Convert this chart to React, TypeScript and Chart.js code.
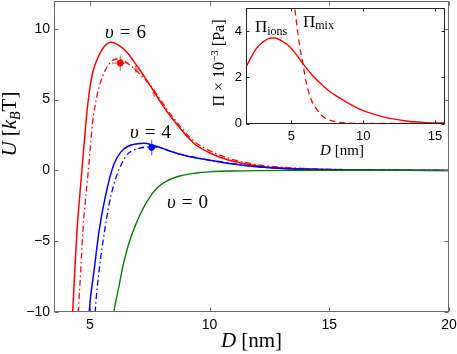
import React, { useEffect, useRef } from "react";
import { Chart, registerables } from "chart.js";
Chart.register(...registerables);

// ---------------- data ----------------
const mainXTicks = [5, 10, 15, 20];
const mainYTicks = [-10, -5, 0, 5, 10];
const insetXTicks = [5, 10, 15];
const insetYTicks = [0, 2, 4];

// upsilon = 6, full theory (solid)
const v6SolidD = [4.24, 4.28, 4.37, 4.46, 4.55, 4.63, 4.76, 4.9, 5.1, 5.4, 5.6, 5.88, 6.2, 6.57, 7.0, 7.55, 8.0, 8.4, 9.35, 10.0, 10.75, 12.1, 13.8, 16.0, 18.0, 20.0];
const v6SolidU = [-11, -10, -7.0, -4.3, -2.3, -0.7, 1.9, 4.5, 6.8, 8.2, 8.75, 9.05, 8.85, 8.3, 7.3, 5.9, 4.7, 3.75, 1.9, 1.25, 0.75, 0.3, 0.12, 0.04, 0.01, 0];
// upsilon = 6, dash-dot
const v6FitD = [4.47, 4.51, 4.62, 4.71, 4.8, 4.9, 5.0, 5.1, 5.3, 5.46, 5.65, 5.85, 6.09, 6.4, 6.7, 7.0, 7.55, 8.0, 8.4, 9.35, 10.0, 10.75, 12.1, 13.8, 16.0, 18.0, 20.0];
const v6FitU = [-11, -10, -7.0, -4.2, -2.3, -0.6, 1.2, 3.2, 5.3, 6.3, 7.1, 7.6, 7.87, 7.75, 7.4, 6.95, 5.95, 4.85, 3.9, 2.05, 1.4, 0.88, 0.38, 0.15, 0.05, 0.01, 0];
// upsilon = 4, solid
const v4SolidD = [4.94, 4.97, 5.18, 5.39, 5.67, 6.01, 6.29, 6.57, 6.99, 7.27, 7.62, 8.0, 8.24, 9.08, 10.0, 10.47, 11.0, 12.1, 13.0, 14.0, 16.0, 18.0, 20.0];
const v4SolidU = [-11, -10, -7.0, -4.2, -1.64, 0.47, 1.29, 1.69, 1.88, 1.92, 1.78, 1.58, 1.42, 1.0, 0.72, 0.58, 0.45, 0.24, 0.14, 0.08, 0.02, 0.005, 0];
// upsilon = 4, dash-dot
const v4FitD = [5.19, 5.22, 5.39, 5.62, 5.8, 6.0, 6.25, 6.57, 7.0, 7.5, 8.0, 8.5, 9.1, 10.5, 12.0, 14.0, 16.0, 20.0];
const v4FitU = [-11, -10, -7.0, -4.2, -2.4, -1.0, 0.2, 1.15, 1.53, 1.66, 1.57, 1.27, 1.02, 0.6, 0.25, 0.08, 0.02, 0];
// upsilon = 0
const v0D = [5.93, 6.01, 6.2, 6.4, 6.6, 6.85, 7.1, 7.4, 7.8, 8.2, 8.8, 9.4, 10.0, 11.0, 12.0, 14.0, 20.0];
const v0U = [-11, -9.9, -8.3, -6.6, -5.3, -4.1, -3.1, -2.15, -1.25, -0.75, -0.38, -0.2, -0.1, -0.04, -0.015, 0, 0];

// simulation points with error bars
const red6PointD = [6.27];
const red6PointU = [7.58];
const red6PointDErr = [0.35];
const red6PointUErr = [0.55];
const red6SmallD = [6.92, 7.68];
const red6SmallU = [7.16, 5.45];
const red6SmallDErr = [0.08, 0.08];
const red6SmallUErr = [0.25, 0.25];
const blue4PointD = [7.58];
const blue4PointU = [1.62];
const blue4PointDErr = [0.1];
const blue4PointUErr = [0.55];

// inset: osmotic pressures (x 10^-3 Pa)
const piIonsD = [1.83, 2.56, 3.0, 3.48, 3.8, 4.41, 4.88, 5.34, 5.81, 6.4, 6.97, 7.6, 8.37, 9.2, 10.0, 10.9, 11.86, 13.0, 14.2, 15.7];
const piIons = [2.45, 3.25, 3.52, 3.69, 3.7, 3.54, 3.32, 2.98, 2.58, 2.12, 1.76, 1.42, 1.1, 0.8, 0.56, 0.37, 0.22, 0.11, 0.05, 0.02];
const piMixD = [5.1, 5.23, 5.39, 5.58, 5.81, 6.04, 6.39, 6.78, 7.2, 7.6, 8.13, 9.0, 10.0, 15.7];
const piMix = [5.8, 4.99, 4.19, 3.32, 2.53, 1.74, 1.02, 0.6, 0.3, 0.16, 0.07, 0.02, 0.0, 0.0];

// ---------------- helpers ----------------
const W = 457;
const H = 354;
const SERIF = '"Liberation Serif", "DejaVu Serif", serif';
const SANS = '"Liberation Sans", Arial, sans-serif';
const it = (s: number) => `italic ${s}px ${SERIF}`;
const rm = (s: number) => `${s}px ${SERIF}`;

const pts = (xs: number[], ys: number[]) => xs.map((x, i) => ({ x, y: ys[i] }));
const fmt = (v: number) => (v < 0 ? "\u2212" + Math.abs(v) : String(v));

type Run = { t?: string; f?: string; dy?: number; gap?: number };

function runsWidth(ctx: CanvasRenderingContext2D, runs: Run[]) {
  let w = 0;
  for (const r of runs) {
    if (r.gap) w += r.gap;
    else {
      ctx.font = r.f!;
      w += ctx.measureText(r.t!).width;
    }
  }
  return w;
}

function drawRuns(ctx: CanvasRenderingContext2D, runs: Run[], x: number, y: number, center: boolean) {
  let cx = center ? x - runsWidth(ctx, runs) / 2 : x;
  ctx.textAlign = "left";
  ctx.textBaseline = "alphabetic";
  for (const r of runs) {
    if (r.gap) {
      cx += r.gap;
      continue;
    }
    ctx.font = r.f!;
    ctx.fillText(r.t!, cx, y + (r.dy || 0));
    cx += ctx.measureText(r.t!).width;
  }
}

function drawRotated(ctx: CanvasRenderingContext2D, runs: Run[], bx: number, cy: number) {
  ctx.save();
  ctx.translate(bx, cy);
  ctx.rotate(-Math.PI / 2);
  drawRuns(ctx, runs, 0, 0, true);
  ctx.restore();
}

function drawFrame(chart: any, color: string, tick: number, xt: number[], yt: number[]) {
  const { ctx, chartArea: a, scales } = chart;
  const L = Math.round(a.left) + 0.5;
  const R = Math.round(a.right) - 0.5;
  const T = Math.round(a.top) + 0.5;
  const B = Math.round(a.bottom) - 0.5;
  ctx.save();
  ctx.strokeStyle = color;
  ctx.lineWidth = 1;
  ctx.strokeRect(L, T, R - L, B - T);
  ctx.beginPath();
  for (const v of xt) {
    const px = Math.round(scales.x.getPixelForValue(v)) + 0.5;
    ctx.moveTo(px, B);
    ctx.lineTo(px, B - tick);
    ctx.moveTo(px, T);
    ctx.lineTo(px, T + tick);
  }
  for (const v of yt) {
    const py = Math.round(scales.y.getPixelForValue(v)) + 0.5;
    ctx.moveTo(L, py);
    ctx.lineTo(L + tick, py);
    ctx.moveTo(R, py);
    ctx.lineTo(R - tick, py);
  }
  ctx.stroke();
  ctx.restore();
}

const errorBarPlugin = {
  id: "errbars",
  afterDatasetsDraw(chart: any) {
    const { ctx, scales } = chart;
    const x = scales.x;
    const y = scales.y;
    chart.data.datasets.forEach((ds: any) => {
      if (!ds.errX) return;
      ctx.save();
      ctx.strokeStyle = ds.errColor;
      ctx.lineWidth = 1.2;
      ds.data.forEach((p: any, i: number) => {
        const px = x.getPixelForValue(p.x);
        const py = y.getPixelForValue(p.y);
        ctx.beginPath();
        ctx.moveTo(x.getPixelForValue(p.x - ds.errX[i]), py);
        ctx.lineTo(x.getPixelForValue(p.x + ds.errX[i]), py);
        ctx.moveTo(px, y.getPixelForValue(p.y - ds.errY[i]));
        ctx.lineTo(px, y.getPixelForValue(p.y + ds.errY[i]));
        ctx.stroke();
      });
      ctx.restore();
    });
  },
};

const mainDecor = {
  id: "mainDecor",
  afterDraw(chart: any) {
    const { ctx, chartArea: a } = chart;
    drawFrame(chart, "#6a6a6a", 4, mainXTicks, mainYTicks);
    ctx.save();
    ctx.fillStyle = "#000";
    const eq = (n: string): Run[] => [
      { t: "\u03C5", f: it(19) },
      { gap: 6 },
      { t: "=", f: rm(19) },
      { gap: 6 },
      { t: n, f: rm(19) },
    ];
    drawRuns(ctx, eq("6"), 105, 38, false);
    drawRuns(ctx, eq("4"), 130, 138, false);
    drawRuns(ctx, eq("0"), 167, 208, false);
    drawRuns(
      ctx,
      [{ t: "D", f: it(21) }, { gap: 5 }, { t: "[nm]", f: rm(21) }],
      (a.left + a.right) / 2,
      347,
      true
    );
    drawRotated(
      ctx,
      [
        { t: "U", f: it(21) },
        { gap: 5 },
        { t: "[", f: rm(21) },
        { t: "k", f: it(21) },
        { t: "B", f: it(14), dy: 4 },
        { t: "T]", f: rm(21) },
      ],
      16,
      124
    );
    ctx.restore();
  },
};

const insetBg = {
  id: "insetBg",
  beforeDraw(chart: any) {
    const { ctx, chartArea: a } = chart;
    ctx.save();
    ctx.fillStyle = "#fff";
    ctx.fillRect(a.left, a.top, a.right - a.left, a.bottom - a.top);
    ctx.restore();
  },
};

const insetDecor = {
  id: "insetDecor",
  afterDraw(chart: any) {
    const { ctx } = chart;
    drawFrame(chart, "#262626", 3, insetXTicks, insetYTicks);
    ctx.save();
    ctx.fillStyle = "#000";
    drawRuns(ctx, [{ t: "\u03A0", f: rm(17) }, { t: "ions", f: rm(12), dy: 3 }], 255, 32, false);
    drawRuns(ctx, [{ t: "\u03A0", f: rm(17) }, { t: "mix", f: rm(12), dy: 2 }], 303, 27, false);
    drawRuns(ctx, [{ t: "D", f: it(15) }, { gap: 4 }, { t: "[nm]", f: rm(15) }], 342, 155, true);
    drawRotated(
      ctx,
      [
        { t: "\u03A0", f: rm(16) },
        { gap: 4 },
        { t: "\u00D7", f: rm(16) },
        { gap: 4 },
        { t: "10", f: rm(16) },
        { t: "\u22123", f: rm(11), dy: -6 },
        { gap: 4 },
        { t: "[Pa]", f: rm(16) },
      ],
      224,
      63
    );
    ctx.restore();
  },
};

function axisOpts(min: number, max: number, ticks: number[], size: number, pad: number, fit: (s: any) => void) {
  return {
    type: "linear" as const,
    min,
    max,
    grid: { display: false, drawTicks: false },
    border: { display: false },
    afterBuildTicks: (s: any) => {
      s.ticks = ticks.map((v) => ({ value: v }));
    },
    afterFit: (s: any) => {
      fit(s);
      s.paddingTop = 0;
      s.paddingBottom = 0;
      s.paddingLeft = 0;
      s.paddingRight = 0;
    },
    ticks: {
      font: { family: SANS, size },
      color: "#000",
      padding: pad,
      maxRotation: 0,
      autoSkip: false,
      callback: (v: any) => fmt(Number(v)),
    },
  };
}

const line = (data: any[], color: string, width: number, dash: number[] = []) => ({
  data,
  showLine: true,
  borderColor: color,
  backgroundColor: color,
  borderWidth: width,
  borderDash: dash,
  pointRadius: 0,
  pointHoverRadius: 0,
  cubicInterpolationMode: "monotone" as const,
  clip: 0,
  fill: false,
});

export default function App() {
  const mainRef = useRef<HTMLCanvasElement>(null);
  const insetRef = useRef<HTMLCanvasElement>(null);

  useEffect(() => {
    const dashDot = [6, 3, 1.5, 3];
    const main = new Chart(mainRef.current!, {
      type: "scatter",
      data: {
        datasets: [
          line(pts(v0D, v0U), "#008000", 1.4),
          line(pts(v4FitD, v4FitU), "#0000ff", 1.3, dashDot),
          line(pts(v4SolidD, v4SolidU), "#0000ff", 1.5),
          line(pts(v6FitD, v6FitU), "#ff0000", 1.3, dashDot),
          line(pts(v6SolidD, v6SolidU), "#ff0000", 1.5),
          {
            data: pts(red6SmallD, red6SmallU),
            errX: red6SmallDErr,
            errY: red6SmallUErr,
            errColor: "rgba(255,0,0,0.7)",
            pointRadius: 0,
            pointHoverRadius: 0,
            showLine: false,
          } as any,
          {
            data: pts(red6PointD, red6PointU),
            errX: red6PointDErr,
            errY: red6PointUErr,
            errColor: "rgba(255,0,0,0.6)",
            pointRadius: 3,
            pointHoverRadius: 3,
            pointBackgroundColor: "#ff0000",
            pointBorderColor: "#ff0000",
            showLine: false,
          } as any,
          {
            data: pts(blue4PointD, blue4PointU),
            errX: blue4PointDErr,
            errY: blue4PointUErr,
            errColor: "rgba(0,0,255,0.6)",
            pointRadius: 3,
            pointHoverRadius: 3,
            pointBackgroundColor: "#0000ff",
            pointBorderColor: "#0000ff",
            showLine: false,
          } as any,
        ],
      },
      options: {
        responsive: false,
        animation: false,
        devicePixelRatio: 1,
        events: [],
        layout: { autoPadding: false, padding: { left: 0, top: 0.5, right: 8, bottom: 0 } },
        plugins: { legend: { display: false }, tooltip: { enabled: false } },
        scales: {
          x: axisOpts(3.5, 20, mainXTicks, 14, 5, (s: any) => {
            s.height = 42;
          }),
          y: axisOpts(-10, 12, mainYTicks, 14, 4, (s: any) => {
            s.width = 54;
          }),
        },
      },
      plugins: [errorBarPlugin, mainDecor],
    });

    const inset = new Chart(insetRef.current!, {
      type: "scatter",
      data: {
        datasets: [
          line(pts(piMixD, piMix), "#ff0000", 1.3, [6, 4]),
          line(pts(piIonsD, piIons), "#ff0000", 1.4),
        ],
      },
      options: {
        responsive: false,
        animation: false,
        devicePixelRatio: 1,
        events: [],
        layout: { autoPadding: false, padding: { left: 222, top: 8, right: 12, bottom: 200.5 } },
        plugins: { legend: { display: false }, tooltip: { enabled: false } },
        scales: {
          x: axisOpts(1.83, 15.7, insetXTicks, 13, 5, (s: any) => {
            s.height = 30;
          }),
          y: axisOpts(0, 5, insetYTicks, 13, 4, (s: any) => {
            s.width = 24;
          }),
        },
      },
      plugins: [insetBg, insetDecor],
    });

    return () => {
      main.destroy();
      inset.destroy();
    };
  }, []);

  return (
    <div style={{ position: "absolute", left: 0, top: 0, width: W, height: H, background: "#fff" }}>
      <canvas ref={mainRef} width={W} height={H} style={{ position: "absolute", left: 0, top: 0 }} />
      <canvas ref={insetRef} width={W} height={H} style={{ position: "absolute", left: 0, top: 0 }} />
    </div>
  );
}
